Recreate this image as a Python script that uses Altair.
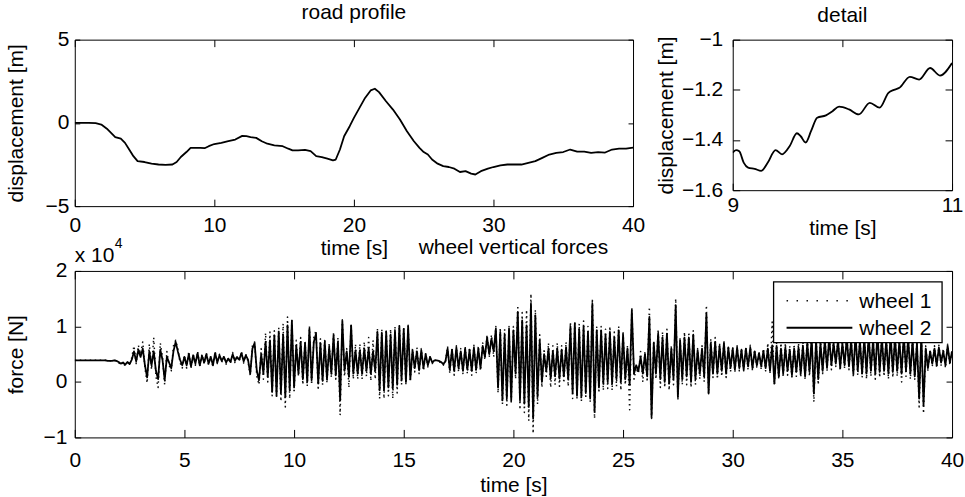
import altair as alt
import pandas as pd

FONT = "Liberation Sans"

# ---------------- road profile (time [s], displacement [m]) ----------------
road_t = [0, 1, 1.5, 1.9, 2.3, 2.6, 2.9, 3.3, 3.6, 3.9, 4.2, 4.5, 5.0, 5.5, 6.0, 6.5, 7.0, 7.3,
          7.6, 8.0, 8.3, 8.7, 9.0, 9.3, 9.6, 10.0, 10.5, 11.0, 11.5, 12.0, 12.3, 12.6, 13.0,
          13.4, 13.8, 14.3, 14.9, 15.3, 15.6, 16.0, 16.5, 16.9, 17.3, 17.7, 18.1, 18.5, 18.7,
          19.0, 19.3, 19.7, 20.0, 20.4, 20.8, 21.2, 21.5, 21.8, 22.3, 22.8, 23.3, 23.8, 24.3,
          24.7, 25.0, 25.3, 25.6, 26.0, 26.4, 26.8, 27.2, 27.6, 28.0, 28.4, 28.7, 29.1, 29.6,
          30.0, 30.5, 31.0, 31.5, 32.0, 32.5, 33.0, 33.5, 34.0, 34.5, 35.0, 35.5, 36.0, 36.5,
          37.0, 37.5, 38.0, 38.5, 39.0, 39.5, 40.0]
road_d = [0.0, 0.0, -0.02, -0.1, -0.35, -0.6, -0.85, -0.95, -1.2, -1.6, -2.0, -2.3, -2.35,
          -2.45, -2.5, -2.52, -2.5, -2.35, -2.05, -1.75, -1.5, -1.5, -1.5, -1.52, -1.4, -1.27,
          -1.2, -1.1, -1.0, -0.78, -0.8, -0.85, -0.9, -1.1, -1.25, -1.35, -1.4, -1.55, -1.65,
          -1.65, -1.62, -1.7, -2.0, -2.05, -2.15, -2.25, -2.2, -1.6, -0.8, -0.2, 0.3, 0.9, 1.5,
          1.95, 2.05, 1.85, 1.3, 0.8, 0.2, -0.5, -1.1, -1.5, -1.75, -1.9, -2.2, -2.45, -2.6,
          -2.65, -2.75, -2.95, -2.9, -3.05, -3.1, -2.9, -2.75, -2.65, -2.55, -2.5, -2.5, -2.5,
          -2.4, -2.3, -2.1, -1.9, -1.8, -1.75, -1.6, -1.72, -1.72, -1.8, -1.75, -1.78, -1.6,
          -1.55, -1.55, -1.48]

# ---------------- detail (9 s .. 11 s) ----------------
detail_t = [9.0, 9.03, 9.06, 9.10, 9.14, 9.20, 9.26, 9.32, 9.39, 9.45, 9.52, 9.585, 9.62,
            9.665, 9.715, 9.77, 9.85, 9.91, 9.97, 10.06, 10.15, 10.25, 10.34, 10.42, 10.47,
            10.52, 10.615, 10.70, 10.80, 10.89, 11.0]
detail_d = [-1.45, -1.44, -1.445, -1.49, -1.51, -1.515, -1.523, -1.49, -1.44, -1.457, -1.424,
            -1.373, -1.385, -1.41, -1.364, -1.311, -1.302, -1.285, -1.267, -1.278, -1.298,
            -1.252, -1.271, -1.212, -1.20, -1.192, -1.148, -1.159, -1.113, -1.143, -1.093]

# ---------------- wheel vertical forces (x 10^4 N), sampled every 0.1 s ----------------
force_step = 0.1
wheel2 = [
    .39, .39, .39, .39, .39, .39, .39, .39, .39, .39,
    .39, .39, .39, .39, .39, .38, .38, .38, .39, .38,
    .36, .33, .35, .31, .36, .32, .40, .55, .37, .58,
    .45, .60, .30, .08, .55, .30, .55, .20, .05, .58,
    .40, .03, .45, .35, .25, .55, .72, .55, .40, .30,
    .45, .30, .50, .28, .48, .33, .52, .30, .47, .35,
    .50, .33, .45, .30, .52, .35, .48, .38, .45, .35,
    .42, .36, .50, .38, .45, .40, .52, .37, .48, .40,
    .15, .60, .70, .20, .03, .50, .15, .72, .10, .75,
    -.18, .84, -.24, .90, -.20, .85, -.27, 1.02, -.15, 1.10,
    -.10, .66, .15, .72, .05, .70, .00, .96, .03, .72,
    .87, -.03, .70, .02, .72, .05, .63, .15, .84, .12,
    .72, -.33, 1.10, .20, .55, .09, 1.02, .15, .57, .15,
    .57, .15, .60, .20, .60, .15, .55, .20, .90, -.15,
    .88, -.15, .90, -.10, .85, -.12, .92, -.05, 1.00, .03,
    .95, .00, 1.00, .05, .57, .25, .55, .21, .57, .25,
    .50, .30, .45, .35, .39, .39, .38, .36, .32, .37,
    .60, .22, .58, .20, .62, .25, .55, .20, .60, .22,
    .58, .20, .62, .22, .60, .25, .65, .45, .80, .50,
    .78, .55, .96, -.10, .90, -.33, .85, -.30, .96, -.33,
    .93, .15, 1.26, -.33, 1.11, -.39, 1.02, -.45, 1.41, -.66,
    1.20, -.27, .75, .00, .50, .20, .60, .06, .55, .10,
    .60, .06, .58, .10, .62, .05, 1.00, -.20, 1.05, -.25,
    .95, -.27, 1.00, -.20, .90, -.30, 1.41, -.54, .93, -.10,
    .93, -.03, .85, .00, .90, -.03, .80, .05, .93, .00,
    .85, .05, .60, -.05, 1.29, .15, .30, .20, .45, .15,
    .50, .10, 1.17, -.63, .70, .15, .87, .05, .80, .00,
    .87, -.03, .60, .05, 1.38, -.27, .75, .05, .80, .10,
    .80, .00, .85, .05, .57, .15, .60, .10, 1.23, -.21,
    .70, .15, .72, .15, .65, .20, .70, .15, .62, .25,
    .60, .22, .62, .25, .58, .22, .60, .28, .62, .25,
    .55, .30, .52, .28, .56, .25, .60, .20, .66, -.03,
    .65, .10, .60, .15, .62, .20, .58, .12, .60, .18,
    .62, .15, .65, .10, .70, .18, .80, -.21, .75, .05,
    .70, .20, .75, .25, .80, .30, .70, .33, .75, .25,
    .70, .30, .80, .28, .75, .15, .85, .20, .75, .15,
    .80, .15, .85, .20, .75, .15, .90, .18, .80, .20,
    .75, .15, .85, .18, .80, .20, .75, .15, .85, .20,
    .80, .15, .75, .10, .70, -.30, .85, -.42, .60, .25,
    .55, .33, .60, .30, .62, .35, .55, .30, .65, .35,
    .55]
wheel1 = [
    .39, .39, .39, .39, .39, .39, .39, .39, .39, .39,
    .39, .39, .39, .39, .39, .38, .38, .38, .39, .38,
    .35, .30, .36, .28, .38, .30, .44, .65, .33, .66,
    .50, .72, .25, -.02, .68, .22, .80, .10, -.10, .70,
    .45, -.05, .55, .30, .20, .65, .75, .60, .35, .25,
    .48, .25, .55, .25, .50, .30, .55, .28, .50, .32,
    .53, .30, .47, .27, .55, .33, .50, .35, .47, .32,
    .44, .33, .53, .35, .47, .37, .55, .34, .50, .37,
    .12, .65, .72, .10, -.05, .60, .05, .88, .00, .90,
    -.25, .92, -.30, .98, -.35, 1.05, -.45, 1.17, -.30, 1.15,
    -.20, .75, .10, .80, -.05, .75, -.08, 1.00, -.05, .80,
    .93, -.15, .78, -.05, .78, -.02, .70, .08, .90, .05,
    .80, -.60, 1.12, .10, .60, -.10, 1.05, .05, .68, .05,
    .68, .05, .72, .10, .80, .02, .75, .05, .96, -.30,
    .95, -.30, .95, -.25, .95, -.30, 1.00, -.20, 1.03, -.05,
    1.00, -.05, 1.02, .00, .60, .18, .62, .15, .60, .20,
    .52, .27, .47, .33, .40, .38, .37, .34, .30, .36,
    .64, .15, .62, .12, .65, .18, .60, .14, .64, .15,
    .62, .12, .66, .15, .65, .20, .70, .40, .85, .45,
    .85, .45, 1.00, -.20, .98, -.40, .95, -.42, 1.00, -.40,
    1.00, .05, 1.38, -.50, 1.25, -.55, 1.30, -.70, 1.59, -.93,
    1.30, -.40, .85, -.10, .60, .10, .70, -.10, .65, -.05,
    .70, -.08, .65, -.02, .72, -.08, 1.08, -.30, 1.10, -.30,
    1.05, -.35, 1.10, -.30, 1.00, -.35, 1.50, -.66, 1.00, -.20,
    1.00, -.15, .95, -.12, 1.00, -.15, .90, -.08, 1.00, -.15,
    .92, -.05, .65, -.50, 1.35, .05, .25, .15, .55, .00,
    .55, .00, 1.35, -.66, .75, .05, .95, -.10, .90, -.10,
    .95, -.15, .65, -.05, 1.50, -.33, .80, -.05, .90, -.05,
    .90, -.10, .92, -.05, .60, .05, .65, .00, 1.38, -.21,
    .78, .08, .80, .05, .70, .10, .75, .08, .65, .18,
    .63, .18, .65, .20, .60, .20, .62, .22, .66, .20,
    .58, .25, .55, .22, .60, .20, .70, .15, 1.08, -.05,
    .70, .05, .70, .08, .70, .12, .65, .05, .68, .10,
    .70, .08, .72, .05, .80, .10, .85, -.36, .80, -.05,
    .78, .15, .80, .20, .85, .22, .78, .28, .80, .20,
    .75, .25, .85, .22, .80, .08, .90, .12, .80, .08,
    .85, .05, .90, .10, .80, .05, .95, .08, .85, .10,
    .80, .05, .90, .08, .85, .10, .80, .00, .90, .10,
    .85, .05, .80, .05, .75, -.45, .90, -.57, .65, .20,
    .58, .28, .65, .25, .66, .30, .60, .25, .68, .30,
    .58]
series_names = ["wheel 1", "wheel 2"]
scale_note = ["x 10", "4"]

titles = {"road": "road profile", "detail": "detail", "force": "wheel vertical forces"}
x_title = "time [s]"
disp_title = "displacement [m]"
force_title = "force [N]"

DOT = [1.5, 3.5]

# ---------------- data frames ----------------
road_df = pd.DataFrame({"t": road_t, "d": road_d})
detail_df = pd.DataFrame({"t": detail_t, "d": detail_d})
force_t = [round(i * force_step, 1) for i in range(len(wheel2))]
w1_df = pd.DataFrame({"t": force_t, "v": wheel1})
w2_df = pd.DataFrame({"t": force_t, "v": wheel2})


def axis(values, tick, pad, title=None, tpad=0, fmt=None, orient=None):
    kw = dict(values=values, tickSize=tick, offset=-tick, labelPadding=pad, domain=False,
              grid=False, labelFlush=False, labelOverlap=False, tickColor="black", tickWidth=1)
    if orient is not None:
        kw.update(orient=orient, labels=False, title=None)
    else:
        kw.update(title=title, titlePadding=tpad)
    if fmt is not None:
        kw.update(format=fmt)
    return alt.Axis(**kw)


def panel(df, yfield, xdom, ydom, xvals, yvals, w, h, xpad, ypad, xtp, ytp, title, toff,
          xtick, ytick, xfmt=None, yfmt=None, interp="linear"):
    xs = alt.Scale(domain=xdom, nice=False, zero=False)
    ys = alt.Scale(domain=ydom, nice=False, zero=False)
    line = alt.Chart(df).mark_line(color="black", strokeWidth=1.8, clip=True,
                                   strokeJoin="round", interpolate=interp).encode(
        x=alt.X("t:Q", scale=xs, axis=axis(xvals, xtick, xpad, x_title, xtp, xfmt)),
        y=alt.Y(f"{yfield}:Q", scale=ys, axis=axis(yvals, ytick, ypad, disp_title, ytp, yfmt)),
    )
    mirror = alt.Chart(df).mark_line(opacity=0).encode(
        x=alt.X("t:Q", scale=xs, axis=axis(xvals, xtick, 0, orient="top")),
        y=alt.Y(f"{yfield}:Q", scale=ys, axis=axis(yvals, ytick, 0, orient="right")),
    )
    return alt.layer(line, mirror).resolve_axis(x="independent", y="independent").properties(
        width=w, height=h, title=alt.Title(title, offset=toff))


road = panel(road_df, "d", [0, 40], [-5, 5], [0, 10, 20, 30, 40], [-5, 0, 5],
             560, 167, 8, 6, 3, 18, titles["road"], 6, 7, 5)
detail = panel(detail_df, "d", [9, 11], [-1.6, -1.0], [9, 10, 11], [-1.6, -1.4, -1.2, -1.0],
               220, 151, 4, 10, 2, 5, titles["detail"], 3, 7, 7, xfmt="d", yfmt=".1~f",
               interp="monotone")

# ---------------- forces panel ----------------
fx = alt.Scale(domain=[0, 40], nice=False, zero=False)
fy = alt.Scale(domain=[-1, 2], nice=False, zero=False)
fx_vals = [0, 5, 10, 15, 20, 25, 30, 35, 40]
fy_vals = [-1, 0, 1, 2]

l1 = alt.Chart(w1_df).mark_line(color="#111111", strokeWidth=1.5, clip=True,
                                strokeDash=DOT, strokeJoin="round").encode(
    x=alt.X("t:Q", scale=fx, axis=axis(fx_vals, 8, 12, x_title, 4)),
    y=alt.Y("v:Q", scale=fy, axis=axis(fy_vals, 6, 8, force_title, 16)),
)
l2 = alt.Chart(w2_df).mark_line(color="black", strokeWidth=1.8, clip=True,
                                strokeJoin="round").encode(
    x=alt.X("t:Q", scale=fx, axis=None), y=alt.Y("v:Q", scale=fy, axis=None))
fmirror = alt.Chart(w2_df).mark_line(opacity=0).encode(
    x=alt.X("t:Q", scale=fx, axis=axis(fx_vals, 8, 0, orient="top")),
    y=alt.Y("v:Q", scale=fy, axis=axis(fy_vals, 6, 0, orient="right")),
)
txt_style = dict(font=FONT, color="black")
ftitle = alt.Chart(pd.DataFrame({"txt": [titles["force"]]})).mark_text(
    align="center", baseline="middle", fontSize=21, **txt_style).encode(
    x=alt.value(440), y=alt.value(-23), text="txt:N")
note = alt.Chart(pd.DataFrame({"txt": [scale_note[0]]})).mark_text(
    align="left", baseline="alphabetic", fontSize=21, **txt_style).encode(
    x=alt.value(0), y=alt.value(-9), text="txt:N")
expo = alt.Chart(pd.DataFrame({"txt": [scale_note[1]]})).mark_text(
    align="left", baseline="alphabetic", fontSize=14, **txt_style).encode(
    x=alt.value(40), y=alt.value(-23), text="txt:N")

# legend (drawn as a framed box inside the plot, like the original)
leg_df = pd.DataFrame({"name": series_names})
leg_box = alt.Chart(pd.DataFrame({"k": [0]})).mark_rect(
    fill="white", stroke="black", strokeWidth=1.3).encode(
    x=alt.value(701), x2=alt.value(870), y=alt.value(11), y2=alt.value(72))
leg_l1 = alt.Chart(leg_df.iloc[[0]]).mark_rule(
    color="#111111", strokeWidth=1.5, strokeDash=[1.5, 8.5]).encode(
    x=alt.value(714), x2=alt.value(780), y=alt.value(30))
leg_l2 = alt.Chart(leg_df.iloc[[1]]).mark_rule(color="black", strokeWidth=1.8).encode(
    x=alt.value(714), x2=alt.value(780), y=alt.value(57))
leg_t1 = alt.Chart(leg_df.iloc[[0]]).mark_text(
    align="left", baseline="middle", fontSize=21, **txt_style).encode(
    x=alt.value(787), y=alt.value(31), text="name:N")
leg_t2 = alt.Chart(leg_df.iloc[[1]]).mark_text(
    align="left", baseline="middle", fontSize=21, **txt_style).encode(
    x=alt.value(787), y=alt.value(58), text="name:N")

forces = alt.layer(l1, l2, fmirror, ftitle, note, expo, leg_box, leg_l1, leg_l2, leg_t1,
                   leg_t2).resolve_axis(x="independent", y="independent").properties(
    width=880, height=167)

top = alt.hconcat(road, detail, spacing=100, bounds="flush")
# the nested row counts as zero height in a flush layout, so the spacing
# carries the full 167 px top-row height plus the 65 px gap
chart = alt.vconcat(top, forces, spacing=232, bounds="flush").properties(
    padding={"left": 5, "top": 0, "right": 0, "bottom": 0}
).configure_view(stroke="black", strokeWidth=1).configure_axis(
    labelFont=FONT, labelFontSize=21, labelColor="black",
    titleFont=FONT, titleFontSize=21, titleFontWeight="normal", titleColor="black",
).configure_title(
    font=FONT, fontSize=21, fontWeight="normal", color="black", anchor="middle",
    baseline="bottom"
)

chart.save("out.html", embed_options={"renderer": "svg", "actions": False})
